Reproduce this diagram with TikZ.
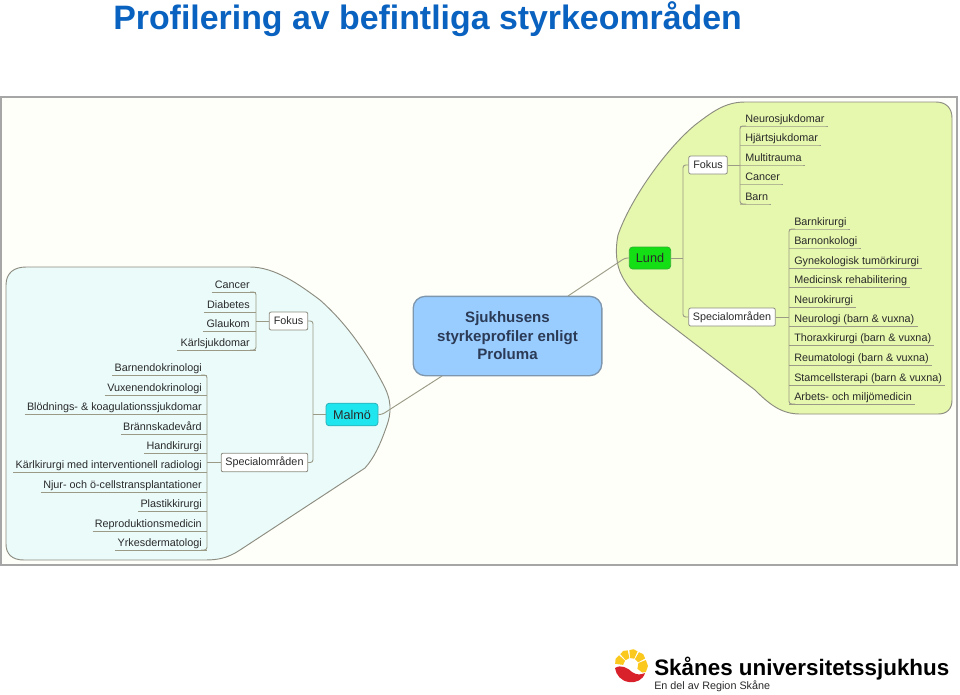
\documentclass[tikz,border=0pt]{standalone}
\usepackage{fontspec}
\setmainfont{Liberation Sans}
\usetikzlibrary{positioning}
\definecolor{framebg}{HTML}{FFFFF9}
\definecolor{framegray}{HTML}{A6A6A6}
\definecolor{malmobg}{HTML}{EAFBFA}
\definecolor{lundbg}{HTML}{E6F7AE}
\definecolor{blobline}{HTML}{8C8C80}
\definecolor{busline}{HTML}{9A9A86}
\definecolor{titleblue}{HTML}{0A62C0}
\definecolor{centerblue}{HTML}{99CCFF}
\definecolor{centerline}{HTML}{7F97AD}
\definecolor{centertext}{HTML}{2B3A55}
\definecolor{leaftext}{HTML}{2A2A2A}
\definecolor{lundgreen}{HTML}{14DE14}
\definecolor{lundline}{HTML}{2FB52F}
\definecolor{malmocyan}{HTML}{1FE6EE}
\definecolor{malmoline}{HTML}{2FB0B8}
\definecolor{logored}{HTML}{D9212C}
\definecolor{logoyellow}{HTML}{FBC81E}
\tikzset{
  leftleaf/.style = {anchor=base east, inner sep=0pt, text=leaftext, font=\fontsize{8.1pt}{10pt}\selectfont},
  rightleaf/.style = {anchor=base west, inner sep=0pt, text=leaftext, font=\fontsize{8.1pt}{10pt}\selectfont},
  under/.style = {draw=busline, line width=0.6pt},
  bus/.style = {draw=busline, line width=0.7pt, rounded corners=2pt},
  branch/.style = {draw=blobline, fill=white, rounded corners=1.5pt, line width=0.6pt, text=leaftext, inner sep=0pt, font=\fontsize{8.1pt}{10pt}\selectfont},
  city/.style = {rounded corners=2.5pt, line width=0.6pt, text=leaftext, inner sep=0pt, font=\fontsize{9.5pt}{12pt}\selectfont},
  blob/.style = {draw=blobline, line width=0.7pt}
}
\begin{document}
\begin{tikzpicture}[x=0.75pt, y=-0.75pt]
\useasboundingbox (0,0) rectangle (960,694);
\fill[white] (0,0) rectangle (960,694);
\node[anchor=base west, inner sep=0pt, text=titleblue, font=\fontsize{25.4pt}{30pt}\selectfont\bfseries] (title) at (113,29) {Profilering av befintliga styrkeområden};
\draw[draw=framegray, fill=framebg, line width=0.9pt] (1,97) rectangle (957,565);
% blobs
\draw[blob, fill=malmobg] (6,285) .. controls (6,273) and (14,267) .. (26,267) -- (250,267) .. controls (275,267) and (300,285) .. (320,300)
  .. controls (345,322) and (365,350) .. (382,382) .. controls (392,400) and (392,412) .. (386,428) .. controls (380,445) and (374,458) .. (365,468)
  -- (240,550) .. controls (228,558) and (218,560) .. (205,560) -- (24,560) .. controls (12,560) and (6,554) .. (6,544) -- cycle;
\draw[blob, fill=lundbg] (952,118) .. controls (952,108) and (946,102) .. (936,102) -- (745,102) .. controls (725,102) and (712,112) .. (695,125)
  .. controls (665,150) and (630,200) .. (618,235) .. controls (615,250) and (616,265) .. (622,276) .. controls (630,292) and (645,305) .. (660,317)
  -- (755,390) .. controls (770,405) and (782,414) .. (800,414) -- (938,414) .. controls (947,414) and (952,409) .. (952,400) -- cycle;
% main nodes
\node[draw=centerline, fill=centerblue, rounded corners=9pt, line width=1pt, minimum width=141.5pt, minimum height=59.5pt, align=center, text=centertext, font=\fontsize{11.3pt}{13.8pt}\selectfont\bfseries] (center) at (507.5,336) {Sjukhusens\\styrkeprofiler enligt\\Proluma};
\node[city, draw=lundline, fill=lundgreen, minimum width=31pt, minimum height=16.5pt] (lund) at (650,258) {Lund};
\node[city, draw=malmoline, fill=malmocyan, minimum width=39pt, minimum height=17pt] (malmo) at (352,414.5) {Malmö};
\coordinate (lundknee) at (625,258);
\coordinate (malmoknee) at (382,414.5);
\coordinate (centerne) at (568,296);
\coordinate (centersw) at (442,376);
\draw[bus] (lund.west) -- (lundknee) -- (centerne);
\draw[bus] (malmo.east) -- (malmoknee) -- (centersw);
% Malmö
\node[branch, minimum width=29pt, minimum height=13.5pt] (mfokus) at (288.5,321) {Fokus};
\node[branch, minimum width=65pt, minimum height=14pt] (mspec) at (264.5,462.5) {Specialområden};
\coordinate (mbus) at (313,414.5);
\draw[bus] (mfokus.east) -| (mbus) |- (mspec.east);
\draw[bus] (malmo.west) -- (mbus);
\foreach \name/\txt/\y in {a/Cancer/292, b/Diabetes/312, c/Glaukom/331, d/Kärlsjukdomar/350} {
  \node[leftleaf] (mf\name) at (250,\y-3.5) {\txt};
  \coordinate (mf\name-e) at (256,\y);
  \draw[under] (mf\name.west |- mf\name-e) ++(-3,0) -- (mf\name-e);
}
\draw[bus] (mfa-e) ++(-6,0) -- (mfa-e) -- (mfd-e) -- ++(-6,0);
\coordinate (mfbus) at (256,321);
\draw[bus] (mfokus.west) -- (mfbus);
\foreach \name/\txt/\y in {a/Barnendokrinologi/375, b/Vuxenendokrinologi/395, c/Blödnings- \& koagulationssjukdomar/414, d/Brännskadevård/434, e/Handkirurgi/453, f/Kärlkirurgi med interventionell radiologi/472, g/Njur- och ö-cellstransplantationer/492, h/Plastikkirurgi/511, i/Reproduktionsmedicin/531, j/Yrkesdermatologi/550} {
  \node[leftleaf] (ms\name) at (202,\y-3.5) {\txt};
  \coordinate (ms\name-e) at (207,\y);
  \draw[under] (ms\name.west |- ms\name-e) ++(-2,0) -- (ms\name-e);
}
\draw[bus] (msa-e) ++(-6,0) -- (msa-e) -- (msj-e) -- ++(-6,0);
\coordinate (msbus) at (207,462.5);
\draw[bus] (mspec.west) -- (msbus);
% Lund
\node[branch, minimum width=29pt, minimum height=13.5pt] (lfokus) at (708,165) {Fokus};
\node[branch, minimum width=65pt, minimum height=13.5pt] (lspec) at (732,317) {Specialområden};
\coordinate (lbus) at (683,258);
\draw[bus] (lfokus.west) -| (lbus) |- (lspec.west);
\draw[bus] (lund.east) -- (lbus);
\foreach \name/\txt/\y in {a/Neurosjukdomar/126, b/Hjärtsjukdomar/145, c/Multitrauma/165, d/Cancer/184, e/Barn/204} {
  \node[rightleaf] (lf\name) at (745,\y-3.5) {\txt};
  \coordinate (lf\name-w) at (740,\y);
  \draw[under] (lf\name-w) -- (lf\name-w -| lf\name.east) -- ++(3,0);
}
\draw[bus] (lfa-w) ++(6,0) -- (lfa-w) -- (lfe-w) -- ++(6,0);
\coordinate (lfbus) at (740,165);
\draw[bus] (lfokus.east) -- (lfbus);
\foreach \name/\txt/\y in {a/Barnkirurgi/229, b/Barnonkologi/248, c/Gynekologisk tumörkirurgi/268, d/Medicinsk rehabilitering/287, e/Neurokirurgi/307, f/Neurologi (barn \& vuxna)/326, g/Thoraxkirurgi (barn \& vuxna)/345, h/Reumatologi (barn \& vuxna)/365, i/Stamcellsterapi (barn \& vuxna)/385, j/Arbets- och miljömedicin/404} {
  \node[rightleaf] (ls\name) at (794,\y-3.5) {\txt};
  \coordinate (ls\name-w) at (789,\y);
  \draw[under] (ls\name-w) -- (ls\name-w -| ls\name.east) -- ++(3,0);
}
\draw[bus] (lsa-w) ++(6,0) -- (lsa-w) -- (lsj-w) -- ++(6,0);
\coordinate (lsbus) at (789,317);
\draw[bus] (lspec.east) -- (lsbus);
% logo
\fill[logored] (615,668) .. controls (621,664) and (628,668) .. (632,672) .. controls (636,675) and (641,675) .. (645,673) .. controls (643,680) and (636,683) .. (629,682) .. controls (621,681) and (616,675) .. (615,668) -- cycle;
\begin{scope}[shift={(631,666)}]
\foreach \a/\b in {188/222, 228/258, 264/294, 300/332} {
  \fill[logoyellow] (\a:8) -- (\a:16) -- ({(\a+\b)/2}:17) -- (\b:16) -- (\b:8) -- cycle;
}
\fill[logoyellow] (338:8) -- (338:16) -- (0:17) -- (22:16) -- (30:13) -- (24:7) -- cycle;
\end{scope}
\node[anchor=base west, inner sep=0pt, font=\fontsize{16.8pt}{20pt}\selectfont\bfseries] (logoname) at (654,675) {Skånes universitetssjukhus};
\node[anchor=base west, inner sep=0pt, text=leaftext, font=\fontsize{8.1pt}{10pt}\selectfont] (logosub) at (654,689) {En del av Region Skåne};
\end{tikzpicture}
\end{document}
